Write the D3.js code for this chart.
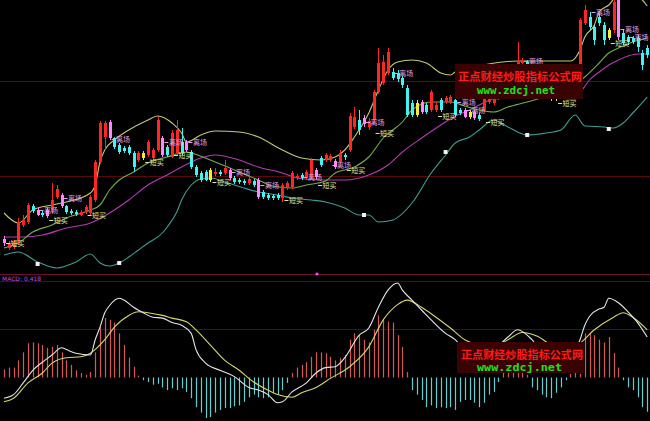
<!DOCTYPE html>
<html><head><meta charset="utf-8">
<script src="https://cdn.jsdelivr.net/npm/d3@7"></script>
<style>html,body{margin:0;padding:0;background:#000;overflow:hidden}</style>
</head><body>
<svg id="c" width="650" height="421"></svg>
<script>
// ---------- DATA ----------
const openP = [
 3.1,2.2,2.3,2.7,4.5,4.8,6.4,6.0,5.7,6.0,
 5.8,7.3,7.5,6.4,5.9,5.8,5.5,5.8,5.7,7.0,
 10.8,13.3,14.8,13.2,12.5,12.2,12.3,11.7,11.0,11.2,
 11.5,11.2,12.0,13.2,12.3,11.3,11.7,12.8,12.8,11.8,
 10.3,9.7,9.8,9.0,9.6,9.8,9.7,10.0,9.2,9.0,
 8.9,8.7,8.9,9.0,7.8,7.5,7.4,7.5,7.2,8.2,
 8.3,9.2,9.5,9.2,9.3,10.0,11.2,11.0,11.0,10.9,
 10.8,11.5,12.0,14.3,15.0,15.2,14.3,15.0,17.8,18.7,
 19.7,19.8,19.7,19.2,18.2,16.7,15.5,16.8,16.5,16.0,
 16.0,17.0,16.8,16.8,17.0,16.0,16.0,15.3,15.8,15.5,
 16.0,16.8,16.7,17.2,18.0,18.8,18.4,19.8,20.7,20.8,
 19.8,19.0,19.4,18.4,17.5,17.1,17.4,18.0,18.4,18.0,
 18.7,24.7,25.3,24.3,25.3,24.5,23.2,24.0,27.0,23.7,
 23.3,23.2,23.2,21.7,22.2];
const closeP = [
 2.7,2.7,2.8,4.8,5.0,6.5,5.9,5.5,5.5,5.4,
 7.0,8.1,6.4,5.8,5.7,5.6,5.8,6.3,7.3,10.8,
 14.7,14.7,13.2,12.3,11.8,11.9,11.7,10.3,11.7,11.7,
 12.8,12.0,15.0,11.5,11.5,13.7,14.0,11.7,12.0,10.3,
 9.5,9.0,9.0,10.0,9.8,9.6,10.2,9.2,8.8,8.8,
 8.7,9.1,8.5,7.3,7.3,7.2,7.2,7.2,8.5,8.7,
 9.7,9.4,9.2,9.8,11.0,9.3,10.5,11.5,11.4,10.3,
 11.7,11.3,15.4,15.3,14.0,14.6,14.9,17.8,20.7,20.8,
 21.8,19.2,19.1,18.5,15.5,15.5,16.7,15.8,15.8,17.8,
 16.5,16.0,17.2,17.3,15.5,15.7,15.3,15.8,15.2,15.1,
 17.3,17.4,17.2,18.0,18.8,18.4,19.8,20.8,21.0,19.8,
 19.0,19.5,18.4,17.7,17.1,17.4,18.0,18.4,18.0,18.6,
 25.0,26.0,24.3,23.0,24.7,23.0,24.0,26.8,23.3,22.7,
 22.8,22.8,22.3,20.5,21.5];
const highP = [
 3.4,2.9,3.0,5.2,5.5,6.7,6.6,6.2,5.9,6.2,
 8.7,8.5,7.7,6.5,6.1,6.0,6.0,6.5,7.5,11.0,
 14.9,14.9,15.0,13.3,12.7,12.4,12.5,11.9,11.9,11.9,
 13.0,12.2,15.3,13.4,12.5,14.0,15.0,14.2,13.0,12.0,
 10.5,9.9,10.0,10.2,10.2,10.0,11.0,10.2,9.4,9.2,
 9.1,9.3,9.1,9.2,8.0,7.7,7.6,7.7,8.7,8.9,
 9.9,9.6,9.7,10.0,11.2,10.2,11.4,11.7,11.6,11.1,
 12.0,11.7,15.7,16.3,16.0,15.5,15.2,18.0,22.2,21.5,
 22.2,20.2,20.0,19.4,18.5,17.0,17.0,17.0,16.7,18.0,
 16.8,17.2,17.4,17.5,17.2,16.2,16.2,16.0,16.0,15.7,
 17.5,17.7,17.4,18.2,19.0,19.2,20.0,22.8,21.2,21.0,
 20.0,19.7,19.6,18.6,17.7,17.6,18.2,18.6,18.6,18.8,
 25.2,26.5,25.8,24.5,25.6,24.8,24.2,27.5,27.5,24.0,
 23.5,23.4,23.5,22.0,22.5];
const lowP = [
 2.4,2.0,2.1,2.5,4.3,4.6,5.7,5.4,5.3,5.2,
 5.6,7.1,6.2,5.6,5.5,5.4,5.4,5.6,5.5,6.8,
 10.6,12.0,13.0,12.1,11.6,11.7,11.5,9.8,10.8,11.0,
 11.3,11.0,11.8,11.3,11.3,11.2,11.5,11.5,11.8,10.1,
 9.3,8.8,8.9,8.8,9.4,9.4,9.5,9.0,8.6,8.6,
 8.5,8.5,8.3,7.1,7.1,7.0,7.0,7.0,6.8,8.0,
 8.1,9.0,9.0,9.0,9.1,9.1,10.3,10.8,10.8,10.1,
 10.6,11.0,11.8,14.1,13.5,14.3,14.0,14.8,17.6,18.5,
 19.5,19.0,18.8,18.2,15.3,15.3,15.3,15.6,15.6,15.8,
 15.8,15.8,16.6,16.6,15.3,15.5,15.2,15.1,15.0,14.9,
 15.8,16.6,16.5,17.0,17.8,18.2,18.2,19.6,20.0,19.5,
 18.7,18.7,18.2,17.5,16.9,16.9,17.2,17.8,17.8,17.8,
 18.5,24.5,24.0,22.5,24.4,22.5,23.0,23.7,23.0,22.5,
 22.5,22.6,21.8,20.0,21.2];

// signal-coloured candles
const pinkBars = [0,7,9,12,22,33,38,47,53,65,69,75,87,96,98,128];
const yellowBars = [29,43,86,97,115,126];

// band / average lines: [day index, price]
const upperBand = [[0,5.7],[3,4.7],[6,6.0],[10,6.5],[13,6.8],[18,7.7],[19,8.5],[20,10.8],[21,12.0],[23,13.0],[26,14.0],[30,15.0],[32,15.4],[35,14.7],[37,13.7],[38,12.8],[41,13.5],[44,13.9],[49,13.8],[53,13.3],[58,12.0],[62,11.2],[66,11.0],[69,11.3],[71,12.0],[73,13.3],[76,15.7],[78,18.0],[80,20.0],[82,20.8],[85,21.0],[88,20.7],[91,19.7],[93,19.5],[94,19.8],[97,20.2],[101,20.6],[107,20.9],[113,20.9],[118,20.9],[120,22.0],[121,23.3],[123,24.5],[124,25.8],[126,26.5],[128,27.5],[131,27.5],[133,27.0],[134,26.4]];
const midBand = [[0,2.2],[3,2.7],[6,3.8],[10,4.5],[13,5.2],[18,6.0],[20,6.5],[22,8.0],[24,9.0],[27,9.8],[30,10.7],[34,11.3],[38,11.8],[39,11.7],[43,11.0],[48,10.0],[53,9.0],[56,8.4],[60,8.2],[63,8.5],[67,8.9],[69,9.7],[73,10.3],[76,11.3],[79,13.2],[83,14.8],[85,16.0],[89,16.8],[93,16.8],[96,16.4],[99,16.0],[102,15.8],[105,16.3],[109,16.8],[114,17.5],[118,18.2],[121,19.3],[124,20.7],[126,21.7],[128,22.2],[131,22.8],[134,23.2]];
const lowerBand = [[0,1.5],[3,1.8],[7,0.8],[11,0.2],[15,0.8],[18,1.6],[20,0.7],[22,0.4],[24,0.7],[26,1.3],[28,2.0],[30,2.7],[33,3.7],[34,4.3],[36,5.8],[37,7.0],[39,8.5],[41,9.1],[43,9.2],[46,8.8],[50,8.2],[53,7.8],[57,7.5],[60,7.2],[64,7.0],[67,6.8],[71,6.2],[74,5.5],[76,5.5],[78,4.8],[81,5.0],[85,6.7],[89,9.7],[92,11.5],[94,12.7],[97,13.3],[99,14.0],[102,15.0],[105,14.3],[109,13.5],[113,13.7],[116,14.0],[119,15.5],[121,14.4],[125,14.3],[127,14.2],[129,14.7],[131,15.7],[134,17.3]];
const maLine = [[0,3.3],[4,3.3],[8,3.5],[13,4.2],[18,4.7],[22,5.7],[26,7.0],[30,8.5],[34,9.5],[37,10.3],[41,11.2],[44,11.5],[49,11.0],[53,10.3],[58,9.7],[61,9.2],[66,9.0],[71,9.0],[76,9.5],[80,10.5],[83,11.8],[87,13.2],[91,14.5],[94,15.4],[97,16.0],[99,16.5],[102,17.1],[107,17.2],[114,17.2],[119,17.1],[120,17.7],[122,19.0],[124,19.8],[126,20.5],[128,21.0],[130,21.4],[132,21.6],[134,21.6]];
const bandMarkers = [[7,0.6],[24,0.7],[75,5.5],[92,11.8],[109,13.5],[126,14.1]];

// text signals: [day index, price]
const exitSignals = [[7,6.0],[12,7.2],[22,13.1],[33,12.8],[38,12.8],[47,9.8],[53,8.5],[62,9.3],[68,10.5],[75,14.8],[81,19.7],[94,16.8],[96,16.0],[108,20.9],[122,25.8],[128,24.1],[130,23.3]];
const buySignals = [[0,2.7],[9,5.0],[17,5.5],[29,10.8],[35,11.5],[43,8.8],[58,7.0],[65,8.5],[71,10.0],[77,13.7],[90,15.4],[100,14.8],[115,16.7],[126,22.7]];
const exitText = "离场", buyText = "短买";

// MACD
const macdHist = [
 0.09,0.11,0.11,0.19,0.28,0.38,0.39,0.38,0.36,0.33,
 0.34,0.36,0.28,0.19,0.14,0.08,0.05,0.03,0.06,0.28,
 0.56,0.66,0.64,0.61,0.49,0.36,0.22,0.12,0.02,-0.03,
 -0.05,-0.08,-0.07,-0.11,-0.14,-0.12,-0.14,-0.12,-0.16,-0.23,
 -0.33,-0.39,-0.45,-0.44,-0.39,-0.36,-0.34,-0.34,-0.32,-0.31,
 -0.27,-0.22,-0.19,-0.22,-0.23,-0.22,-0.17,-0.19,-0.14,-0.06,
 0.05,0.11,0.14,0.17,0.23,0.28,0.28,0.27,0.23,0.19,
 0.22,0.25,0.42,0.49,0.47,0.42,0.39,0.53,0.69,0.64,
 0.62,0.61,0.47,0.34,0.06,-0.14,-0.19,-0.25,-0.33,-0.31,
 -0.34,-0.33,-0.34,-0.33,-0.36,-0.27,-0.25,-0.25,-0.28,-0.33,
 -0.28,-0.19,-0.16,-0.05,0.05,0.05,0.05,0.05,0.05,0.03,
 -0.11,-0.14,-0.19,-0.22,-0.23,-0.17,-0.11,-0.03,0.04,0.05,
 0.04,0.49,0.49,0.47,0.42,0.39,0.45,0.27,0.11,-0.03,
 -0.11,-0.14,-0.22,-0.33,-0.38];
const difLine = [[0,-0.23],[2,-0.19],[4,-0.06],[6,0.08],[8,0.17],[10,0.25],[12,0.33],[13,0.31],[15,0.27],[18,0.25],[19,0.42],[20,0.56],[21,0.72],[22,0.80],[24,0.88],[25,0.86],[27,0.78],[29,0.72],[31,0.67],[33,0.66],[35,0.61],[37,0.58],[39,0.49],[40,0.31],[42,0.16],[45,0.08],[48,0.01],[51,-0.11],[53,-0.14],[55,-0.19],[57,-0.28],[58,-0.27],[60,-0.16],[63,-0.06],[65,0.05],[67,0.11],[69,0.12],[71,0.22],[74,0.47],[76,0.55],[78,0.78],[80,0.97],[82,1.05],[83,0.97],[85,0.86],[87,0.75],[89,0.64],[92,0.49],[94,0.42],[96,0.30],[99,0.20],[102,0.30],[105,0.45],[107,0.53],[110,0.42],[113,0.22],[116,0.22],[119,0.30],[120,0.42],[121,0.58],[122,0.68],[124,0.76],[125,0.78],[126,0.88],[128,0.83],[130,0.73],[132,0.61],[134,0.45]];
const deaLine = [[0,-0.27],[2,-0.23],[5,-0.06],[8,0.05],[10,0.16],[13,0.22],[16,0.23],[18,0.27],[21,0.42],[23,0.56],[26,0.69],[28,0.73],[30,0.72],[33,0.69],[35,0.66],[38,0.62],[40,0.53],[43,0.36],[46,0.19],[49,0.08],[52,-0.05],[55,-0.14],[57,-0.19],[60,-0.22],[62,-0.17],[65,-0.11],[68,-0.01],[72,0.12],[76,0.34],[79,0.64],[82,0.81],[84,0.86],[87,0.78],[90,0.67],[93,0.55],[96,0.42],[99,0.36],[102,0.34],[105,0.42],[108,0.50],[111,0.46],[114,0.36],[117,0.28],[120,0.38],[123,0.53],[127,0.67],[129,0.72],[131,0.67],[134,0.53]];
const macdLabel = "MACD: 0.418";
const priceGrid = [18.9, 9.4];
const macdGrid = [1.07, 0.54];
const watermark = ["正点财经炒股指标公式网", "www.zdcj.net"];

// ---------- DRAW ----------
const svg = d3.select("#c");
svg.append("rect").attr("width",650).attr("height",421).attr("fill","#000");
const N = openP.length;
const x = d3.scaleLinear().domain([0, N-1]).range([4, 647.2]);
const yP = d3.scaleLinear().domain([0, 27]).range([270, 0]);
const yM = d3.scaleLinear().domain([-0.5, 1.0]).range([422.5, 287.5]);
const px = i => Math.round(x(i));

const defs = svg.append("defs");
defs.append("clipPath").attr("id","cpTop").append("rect").attr("x",0).attr("y",0).attr("width",650).attr("height",274);
defs.append("clipPath").attr("id","cpBot").append("rect").attr("x",0).attr("y",282).attr("width",650).attr("height",139);

// grid lines
const gridCol = "#5a0808";
svg.append("g").selectAll("line").data(priceGrid).join("line")
  .attr("x1",0).attr("x2",650).attr("y1",d=>Math.round(yP(d))+0.5).attr("y2",d=>Math.round(yP(d))+0.5)
  .attr("stroke",gridCol).attr("stroke-width",1);
svg.append("line").attr("x1",0).attr("x2",650).attr("y1",274.5).attr("y2",274.5).attr("stroke","#6a1030").attr("stroke-width",1);
svg.append("g").selectAll("line").data(macdGrid).join("line")
  .attr("x1",0).attr("x2",650).attr("y1",d=>Math.round(yM(d))+0.5).attr("y2",d=>Math.round(yM(d))+0.5)
  .attr("stroke",gridCol).attr("stroke-width",1);
svg.append("circle").attr("cx",317).attr("cy",274).attr("r",1.6).attr("fill","#ff40ff");

// upper panel
const gTop = svg.append("g").attr("clip-path","url(#cpTop)");
const lineGen = d3.line().x(d=>x(d[0])).y(d=>yP(d[1])).curve(d3.curveMonotoneX);
[[upperBand,"#c6c67a"],[lowerBand,"#3f9e92"],[maLine,"#b43cb4"],[midBand,"#6fae4e"]].forEach(([d,c])=>{
  gTop.append("path").datum(d).attr("d",lineGen).attr("fill","none").attr("stroke",c).attr("stroke-width",1.1);
});

const idx = d3.range(N);
const candleColor = i => {
  if (pinkBars.includes(i)) return "#ff86ff";
  if (yellowBars.includes(i)) return "#f2ee30";
  return closeP[i] >= openP[i] ? "#ff2626" : "#44f2f2";
};
gTop.append("g").selectAll("line").data(idx).join("line")
  .attr("x1",i=>px(i)+0.5).attr("x2",i=>px(i)+0.5)
  .attr("y1",i=>yP(highP[i])).attr("y2",i=>yP(lowP[i]))
  .attr("stroke",candleColor).attr("stroke-width",1);
gTop.append("g").selectAll("rect").data(idx).join("rect")
  .attr("x",i=>px(i)-1).attr("width",3)
  .attr("y",i=>yP(Math.max(openP[i],closeP[i])))
  .attr("height",i=>Math.max(1, Math.abs(yP(openP[i])-yP(closeP[i]))))
  .attr("fill",candleColor);

// band markers
gTop.append("g").selectAll("rect").data(bandMarkers).join("rect")
  .attr("x",d=>x(d[0])-2).attr("y",d=>yP(d[1])-2).attr("width",4).attr("height",4)
  .attr("fill","#f4eef4");

// signal labels
function drawSignals(data, txt, col){
  const g = gTop.append("g");
  g.selectAll("line").data(data).join("line")
    .attr("x1",d=>x(d[0])+2).attr("x2",d=>x(d[0])+6)
    .attr("y1",d=>Math.round(yP(d[1]))+0.5).attr("y2",d=>Math.round(yP(d[1]))+0.5)
    .attr("stroke",col).attr("stroke-width",1);
  g.selectAll("text").data(data).join("text")
    .attr("x",d=>x(d[0])+6.5).attr("y",d=>yP(d[1])+2.8)
    .attr("font-family","'Noto Sans CJK SC', sans-serif").attr("font-size",7)
    .attr("fill",col).text(txt);
}
drawSignals(exitSignals, exitText, "#e2a2e6");
drawSignals(buySignals, buyText, "#e0e09c");

// MACD label
svg.append("text").attr("x",2).attr("y",281).attr("font-family","'DejaVu Sans', sans-serif")
  .attr("font-size",6).attr("fill","#c048e0").text(macdLabel);

// MACD panel
const gBot = svg.append("g").attr("clip-path","url(#cpBot)");
gBot.append("g").selectAll("line").data(idx).join("line")
  .attr("x1",i=>px(i)+0.5).attr("x2",i=>px(i)+0.5)
  .attr("y1",yM(0)).attr("y2",i=>yM(macdHist[i]))
  .attr("stroke",i=>macdHist[i]>=0 ? "#d45a5a" : "#66cccc").attr("stroke-width",1.2);
const mLine = d3.line().x(d=>x(d[0])).y(d=>yM(d[1])).curve(d3.curveMonotoneX);
gBot.append("path").datum(deaLine).attr("d",mLine).attr("fill","none").attr("stroke","#d6d670").attr("stroke-width",1.1);
gBot.append("path").datum(difLine).attr("d",mLine).attr("fill","none").attr("stroke","#e6e6e6").attr("stroke-width",1.1);

// watermarks
function drawMark(bx, by, bw, bh, tx, ty1, ty2, w1, w2){
  const g = svg.append("g");
  g.append("rect").attr("x",bx).attr("y",by).attr("width",bw).attr("height",bh).attr("fill","#3a0303");
  g.append("text").attr("x",tx).attr("y",ty1).attr("font-family","'Noto Sans CJK SC', sans-serif")
    .attr("font-weight","bold").attr("font-size",11).attr("fill","#ff1c1c")
    .attr("textLength",w1).attr("lengthAdjust","spacingAndGlyphs").text(watermark[0]);
  g.append("text").attr("x",477).attr("y",ty2).attr("font-family","'DejaVu Sans Mono', monospace")
    .attr("font-weight","bold").attr("font-size",10).attr("fill","#1ee01e")
    .attr("textLength",w2).attr("lengthAdjust","spacingAndGlyphs").text(watermark[1]);
}
drawMark(455, 64, 128, 35, 458, 81, 94, 124, 78);
drawMark(457, 342, 127, 31, 461, 358.5, 371, 122, 85);
</script>
</body></html>
